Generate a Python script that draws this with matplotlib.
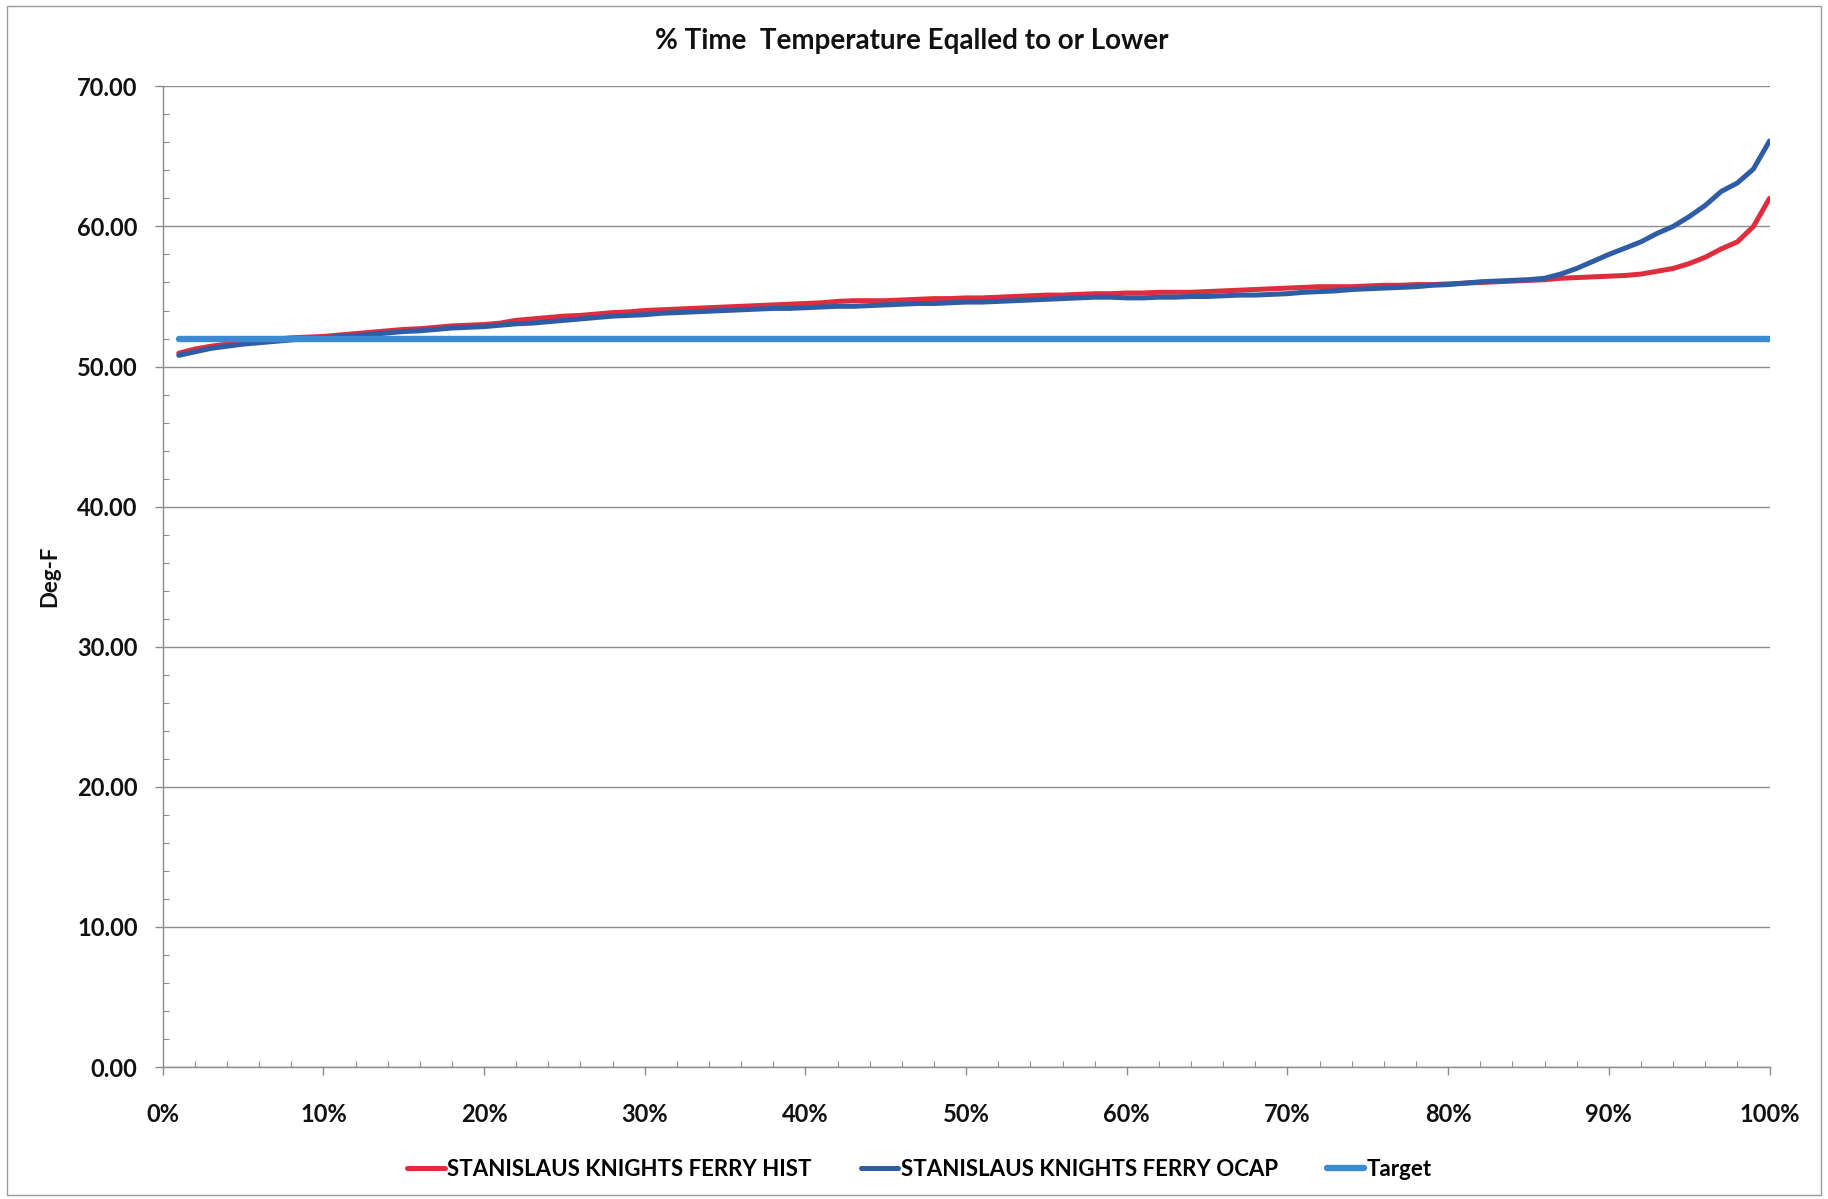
import numpy as np
import matplotlib.pyplot as plt
from matplotlib.patches import Rectangle
from matplotlib.ticker import MultipleLocator, FuncFormatter

plt.rcParams["font.family"] = ["Lato", "DejaVu Sans"]
plt.rcParams["font.weight"] = "bold"

# exceedance position (% of time), one point per percentile
pct = np.arange(1, 101)

hist = [
    50.95, 51.25, 51.45, 51.60, 51.75, 51.85, 51.95, 52.05, 52.10, 52.15,
    52.25, 52.35, 52.45, 52.55, 52.65, 52.70, 52.80, 52.90, 52.95, 53.00,
    53.10, 53.30, 53.40, 53.50, 53.60, 53.65, 53.75, 53.85, 53.90, 54.00,
    54.05, 54.10, 54.15, 54.20, 54.25, 54.30, 54.35, 54.40, 54.45, 54.50,
    54.55, 54.65, 54.70, 54.70, 54.70, 54.75, 54.80, 54.85, 54.85, 54.90,
    54.90, 54.95, 55.00, 55.05, 55.10, 55.10, 55.15, 55.20, 55.20, 55.25,
    55.25, 55.30, 55.30, 55.30, 55.35, 55.40, 55.45, 55.50, 55.55, 55.60,
    55.65, 55.70, 55.70, 55.70, 55.75, 55.80, 55.80, 55.85, 55.85, 55.90,
    55.95, 56.00, 56.05, 56.10, 56.15, 56.20, 56.30, 56.35, 56.40, 56.45,
    56.50, 56.60, 56.80, 57.00, 57.35, 57.80, 58.40, 58.90, 60.00, 62.00,
]

ocap = [
    50.80, 51.05, 51.30, 51.45, 51.60, 51.70, 51.80, 51.90, 52.00, 52.05,
    52.15, 52.20, 52.30, 52.40, 52.50, 52.55, 52.65, 52.75, 52.80, 52.85,
    52.95, 53.05, 53.10, 53.20, 53.30, 53.40, 53.50, 53.60, 53.65, 53.70,
    53.80, 53.85, 53.90, 53.95, 54.00, 54.05, 54.10, 54.15, 54.15, 54.20,
    54.25, 54.30, 54.30, 54.35, 54.40, 54.45, 54.50, 54.50, 54.55, 54.60,
    54.60, 54.65, 54.70, 54.75, 54.80, 54.85, 54.90, 54.95, 54.95, 54.90,
    54.90, 54.95, 54.95, 55.00, 55.00, 55.05, 55.10, 55.10, 55.15, 55.20,
    55.30, 55.35, 55.40, 55.50, 55.55, 55.60, 55.65, 55.70, 55.80, 55.85,
    55.95, 56.05, 56.10, 56.15, 56.20, 56.30, 56.60, 57.00, 57.50, 58.00,
    58.45, 58.90, 59.50, 60.00, 60.70, 61.50, 62.50, 63.10, 64.10, 66.10,
]

target = [52.0] * len(pct)

series = [
    ("STANISLAUS KNIGHTS FERRY HIST", hist, "#DE2E3E", 3.6),
    ("STANISLAUS KNIGHTS FERRY OCAP", ocap, "#2F5DA5", 3.6),
    ("Target", target, "#3A8BD2", 4.6),
]

fig = plt.figure(figsize=(18.28, 11.99), dpi=100)
ax = fig.add_axes([0.089, 0.110, 0.879, 0.818])

for name, vals, color, lw in series:
    ax.plot(pct, vals, color=color, lw=lw, label=name,
            solid_capstyle="round", solid_joinstyle="round")

ax.set_xlim(0, 100)
ax.set_ylim(0, 70)
ax.xaxis.set_major_locator(MultipleLocator(10))
ax.xaxis.set_minor_locator(MultipleLocator(2))
ax.yaxis.set_major_locator(MultipleLocator(10))
ax.yaxis.set_minor_locator(MultipleLocator(2))
ax.xaxis.set_major_formatter(FuncFormatter(lambda v, _: f"{v:.0f}%"))
ax.yaxis.set_major_formatter(FuncFormatter(lambda v, _: f"{v:.2f}"))

ax.grid(axis="y", which="major", color="#8c8c8c", lw=1.0)
ax.set_axisbelow(True)
for side in ("top", "right"):
    ax.spines[side].set_visible(False)
for side in ("left", "bottom"):
    ax.spines[side].set_color("#8c8c8c")
    ax.spines[side].set_linewidth(1.0)

ax.tick_params(which="major", direction="out", length=6, width=1,
               color="#8c8c8c", labelsize=17, labelcolor="#111111")
ax.tick_params(which="minor", direction="in", length=4, width=0.8,
               color="#8c8c8c")
ax.tick_params(axis="x", which="major", pad=20)
ax.tick_params(axis="y", which="major", pad=12)

ax.set_ylabel("Deg-F", fontsize=16, fontweight="bold", labelpad=12,
              color="#111111")
fig.text(0.499, 0.966, "% Time  Temperature Eqalled to or Lower",
         ha="center", va="center", fontsize=20, fontweight="bold",
         color="#111111")

fig.legend(loc="center", bbox_to_anchor=(0.503, 0.025), ncol=3,
           frameon=False, fontsize=16, handlelength=1.7, handletextpad=0.1,
           columnspacing=2.2)

# thin frame around the whole chart area
fig.patches.append(Rectangle((0.004, 0.003), 0.992, 0.992,
                             transform=fig.transFigure, fill=False,
                             edgecolor="#9a9a9a", lw=1.0))

fig.savefig("out.png", dpi=100)
